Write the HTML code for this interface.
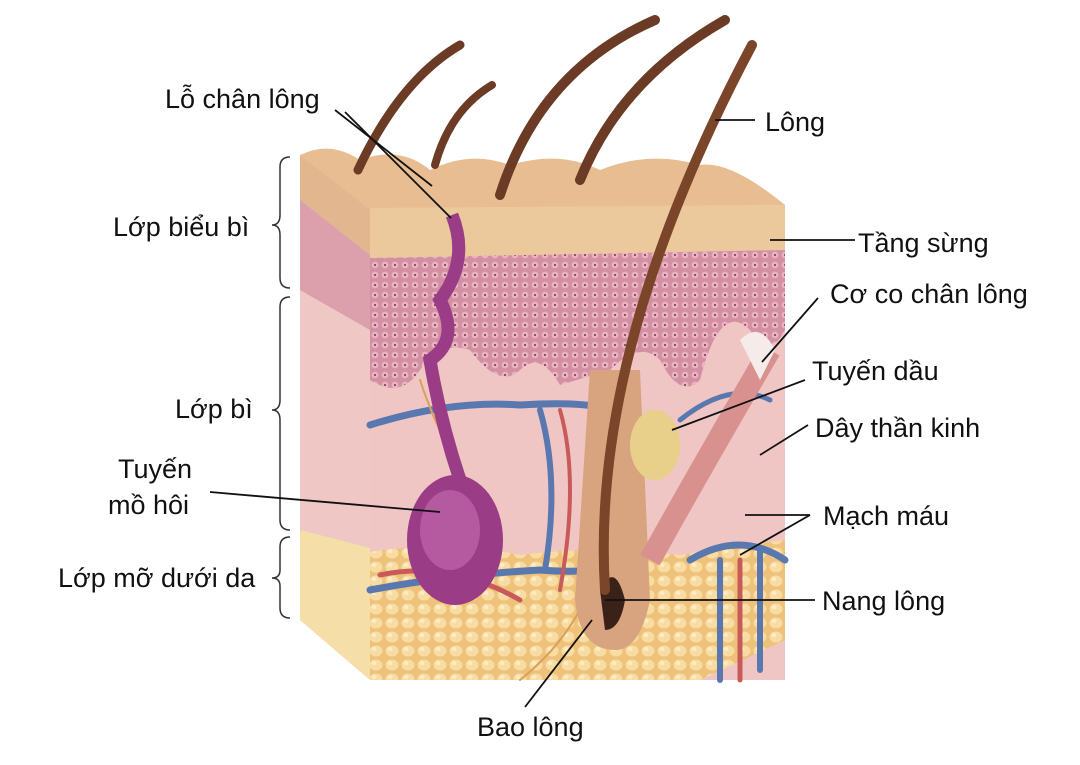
<!DOCTYPE html>
<html><head><meta charset="utf-8"><style>
html,body{margin:0;padding:0;background:#fff;}
svg{display:block}
text{font-family:"Liberation Sans",sans-serif;font-size:27px;fill:#111}
</style></head><body>
<svg width="1080" height="765" viewBox="0 0 1080 765" xmlns="http://www.w3.org/2000/svg">
<defs>
<pattern id="cells" width="10" height="10" patternUnits="userSpaceOnUse">
<rect width="10" height="10" fill="#d490a3"/><circle cx="5" cy="5" r="3.4" fill="#e8b4c2"/><circle cx="5" cy="5" r="1" fill="#7a3050"/></pattern>
<pattern id="fat" width="16" height="14" patternUnits="userSpaceOnUse">
<rect width="16" height="14" fill="#eec27a"/><ellipse cx="8" cy="7" rx="6.5" ry="5.5" fill="#f8dca2"/><ellipse cx="6" cy="5" rx="2.5" ry="2" fill="#fcecc6"/></pattern>
</defs>
<!-- left side face -->
<polygon points="300,155 370,208 370,680 300,620" fill="#efc7c5"/>
<polygon points="300,155 370,208 370,255 300,200" fill="#e2b68f"/>
<polygon points="300,200 370,255 370,330 300,290" fill="#dca0ad"/>
<polygon points="300,530 370,548 370,680 300,620" fill="#f6dea8"/>
<!-- top face -->
<path d="M300,155 Q330,140 360,160 Q400,145 430,170 Q470,150 510,165 Q560,150 600,170 Q650,150 700,165 Q730,160 785,205 L370,210 Z" fill="#e9bd92"/>
<!-- front face -->
<rect x="370" y="208" width="415" height="472" fill="#f0c6c4"/>
<path d="M370,208 L785,205 L785,250 L370,258 Z" fill="#ecc99c"/>
<path d="M370,258 L785,250 L785,330 Q770,360 750,330 Q720,300 700,380 Q680,400 660,360 Q640,340 610,370 L560,385 Q540,350 520,370 Q500,390 470,350 Q440,340 420,370 Q400,400 370,380 Z" fill="url(#cells)"/>
<path d="M370,552 Q450,540 520,555 Q600,545 680,555 Q740,545 785,540 L785,640 L700,680 L370,680 Z" fill="url(#fat)"/>
<!-- vessels -->
<g fill="none" stroke-linecap="round">
<path d="M370,425 Q450,400 520,405 Q600,400 620,415" stroke="#5a78b0" stroke-width="7"/>
<path d="M370,590 Q450,575 540,570 Q600,575 640,560" stroke="#5a78b0" stroke-width="7"/>
<path d="M540,410 Q560,480 545,570" stroke="#5a78b0" stroke-width="6"/>
<path d="M690,560 Q740,530 785,560" stroke="#5a78b0" stroke-width="7"/>
<path d="M720,560 L720,680 M760,550 L760,670" stroke="#5a78b0" stroke-width="6"/>
<path d="M740,560 L740,680 M380,575 Q450,560 520,600" stroke="#c85a5a" stroke-width="5"/>
<path d="M680,420 Q730,380 770,400" stroke="#5a78b0" stroke-width="5"/>
<path d="M420,380 Q450,470 500,520 M600,470 Q620,600 520,680" stroke="#d9a05a" stroke-width="2"/>
<path d="M560,410 Q580,480 560,590" stroke="#c85a5a" stroke-width="4"/>
</g>
<!-- sweat gland -->
<path d="M452,215 Q470,260 440,300 Q460,340 430,360 Q440,420 460,480" fill="none" stroke="#9a3d86" stroke-width="13"/>
<ellipse cx="455" cy="540" rx="48" ry="65" fill="#9a3d86"/>
<ellipse cx="450" cy="530" rx="30" ry="40" fill="#b559a0"/>
<!-- follicle -->
<path d="M590,370 L640,370 L650,600 Q640,650 615,650 Q580,650 575,600 Z" fill="#d8a37f"/>
<path d="M600,590 Q615,560 625,600 Q620,630 605,630 Z" fill="#3a2218"/>
<ellipse cx="655" cy="445" rx="25" ry="35" fill="#e8cf8a"/>
<path d="M650,560 Q700,470 770,350" stroke="#d8918f" stroke-width="22" fill="none"/>
<path d="M740,340 Q760,320 775,350 L760,380 Z" fill="#f5ecea"/>
<!-- hairs -->
<g fill="none" stroke="#6b3b25" stroke-linecap="round">
<path d="M358,170 Q400,80 460,45" stroke-width="9"/>
<path d="M435,165 Q450,110 492,85" stroke-width="8"/>
<path d="M500,195 Q540,70 655,20" stroke-width="10"/>
<path d="M580,180 Q620,80 725,20" stroke-width="10"/>
<path d="M605,590 Q590,350 752,45" stroke-width="10" stroke="#7a4528"/>
</g>
<!-- braces -->
<g fill="none" stroke="#333" stroke-width="1.5">
<path d="M290,157 Q280,157 280,167 L280,215 Q280,225 272,225 Q280,225 280,235 L280,278 Q280,288 290,288"/>
<path d="M290,297 Q280,297 280,307 L280,400 Q280,410 272,410 Q280,410 280,420 L280,520 Q280,530 290,530"/>
<path d="M290,537 Q280,537 280,547 L280,570 Q280,578 272,578 Q280,578 280,586 L280,608 Q280,618 290,618"/>
</g>
<!-- leader lines -->
<g stroke="#111" stroke-width="1.8" fill="none">
<line x1="335" y1="110" x2="432" y2="186"/>
<line x1="345" y1="112" x2="451" y2="218"/>
<line x1="715" y1="120" x2="755" y2="120"/>
<line x1="770" y1="240" x2="855" y2="240"/>
<line x1="818" y1="298" x2="762" y2="362"/>
<line x1="805" y1="380" x2="672" y2="430"/>
<line x1="808" y1="425" x2="760" y2="455"/>
<line x1="810" y1="515" x2="745" y2="515"/>
<line x1="810" y1="515" x2="740" y2="555"/>
<line x1="815" y1="600" x2="605" y2="600"/>
<line x1="525" y1="707" x2="592" y2="620"/>
<line x1="210" y1="492" x2="440" y2="512"/>
</g>
<!-- labels -->
<text x="165" y="108">Lỗ chân lông</text>
<text x="765" y="131">Lông</text>
<text x="858" y="252">Tầng sừng</text>
<text x="830" y="303">Cơ co chân lông</text>
<text x="812" y="380">Tuyến dầu</text>
<text x="815" y="437">Dây thần kinh</text>
<text x="823" y="525">Mạch máu</text>
<text x="822" y="610">Nang lông</text>
<text x="477" y="736">Bao lông</text>
<text x="113" y="236">Lớp biểu bì</text>
<text x="175" y="418">Lớp bì</text>
<text x="118" y="478">Tuyến</text>
<text x="108" y="514">mồ hôi</text>
<text x="58" y="587">Lớp mỡ dưới da</text>
</svg>
</body></html>
